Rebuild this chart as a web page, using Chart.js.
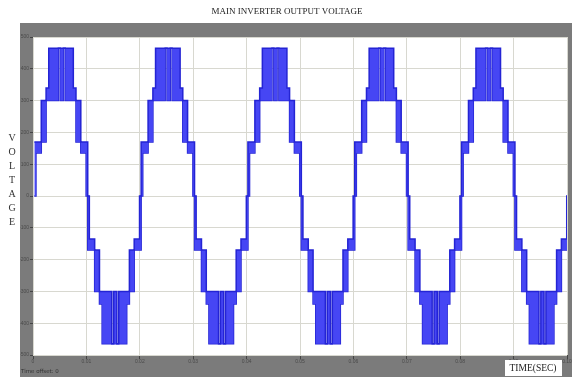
<!DOCTYPE html>
<html>
<head>
<meta charset="utf-8">
<script src="https://cdn.jsdelivr.net/npm/chart.js@4.4.1/dist/chart.umd.min.js"></script>
<style>
  html, body { margin: 0; padding: 0; background: #fff; }
  #wrap { width: 574px; height: 377px; }
</style>
</head>
<body>
<div id="wrap"><canvas id="scope" width="574" height="377"></canvas></div>
<script>
// one period of the staircase (ms from the rising zero crossing)
// each band is drawn between its upper and lower switching level
const stepTimes  = [0, 0.3, 1.3, 2.2, 2.7, 4.5, 4.85, 5.45, 5.8, 7.3, 7.8, 8.7, 9.7, 10.0, 10.3, 11.3, 12.2, 12.7, 14.5, 14.85, 15.45, 15.8, 17.3, 17.8, 18.7, 19.7];
const upperVolts = [170, 170, 300, 340, 465, 465, 465, 465, 465, 340, 300, 170, 170, 0, -135, -170, -300, -300, -465, -300, -465, -300, -300, -170, -135, 0];
const lowerVolts = [0, 135, 170, 300, 300, 465, 300, 465, 300, 300, 170, 135, 0, -170, -170, -300, -340, -465, -465, -465, -465, -465, -340, -300, -170, -170];
// the five cycles on screen all start here (ms)
const cycleStarts = [0.25, 20.25, 40.25, 60.25, 80.25];
const timeTicks = [0, 0.01, 0.02, 0.03, 0.04, 0.05, 0.06, 0.07, 0.08, 0.09, 0.1];
const voltTicks = [-500, -400, -300, -200, -100, 0, 100, 200, 300, 400, 500];

function envelope(levels) {
    const pts = [];
    cycleStarts.forEach(c => {
        stepTimes.forEach((t, i) => pts.push({ x: (c + t) / 1000, y: levels[i] }));
    });
    pts.push({ x: (cycleStarts[cycleStarts.length - 1] + 20) / 1000, y: levels[0] });
    return pts;
}

const scopeFrame = {
    id: 'scopeFrame',
    beforeDraw(chart) {
        const { ctx, chartArea: a } = chart;
        ctx.save();
        ctx.fillStyle = '#ffffff';
        ctx.fillRect(0, 0, chart.width, chart.height);
        ctx.fillStyle = '#7b7b7b';
        ctx.fillRect(20, 23, 552, 354);
        ctx.fillStyle = '#ffffff';
        ctx.fillRect(a.left, a.top, a.right - a.left, a.bottom - a.top);
        ctx.restore();
    },
    afterDraw(chart) {
        const ctx = chart.ctx;
        ctx.save();
        ctx.fillStyle = '#222';
        ctx.textAlign = 'center';
        ctx.textBaseline = 'middle';
        ctx.font = '9px "Liberation Serif"';
        ctx.fillText('MAIN INVERTER OUTPUT VOLTAGE', 287, 12);

        // stacked axis name
        ctx.font = '10px "Liberation Serif"';
        ctx.fillStyle = '#333';
        'VOLTAGE'.split('').forEach((ch, i) => ctx.fillText(ch, 12, 138 + i * 14));

        // time label box
        ctx.fillStyle = '#ffffff';
        ctx.fillRect(505, 360, 57, 16);
        ctx.fillStyle = '#222';
        ctx.font = '9.5px "Liberation Serif"';
        ctx.fillText('TIME(SEC)', 533, 368);

        ctx.textAlign = 'left';
        ctx.font = '5.5px "DejaVu Sans"';
        ctx.fillStyle = '#333';
        ctx.fillText('Time offset: 0', 21, 372);
        ctx.restore();
    }
};

new Chart(document.getElementById('scope'), {
    type: 'line',
    data: {
        datasets: [
            {
                data: envelope(upperVolts),
                stepped: true,
                borderColor: '#2424d4',
                borderWidth: 1.5,
                backgroundColor: '#4646f4',
                fill: '+1',
                pointRadius: 0
            },
            {
                data: envelope(lowerVolts),
                stepped: true,
                borderColor: '#2424d4',
                borderWidth: 1.5,
                fill: false,
                pointRadius: 0
            }
        ]
    },
    options: {
        responsive: false,
        animation: false,
        devicePixelRatio: 1,
        layout: { padding: { left: 20, right: 7, top: 37, bottom: 0 } },
        plugins: { legend: { display: false }, tooltip: { enabled: false }, title: { display: false } },
        scales: {
            x: {
                type: 'linear',
                min: timeTicks[0],
                max: timeTicks[timeTicks.length - 1],
                afterBuildTicks: s => { s.ticks = timeTicks.map(v => ({ value: v })); },
                afterFit: s => { s.height = 22; },
                ticks: { font: { size: 5 }, color: '#4a4a4a', padding: 0, maxRotation: 0, autoSkip: false },
                grid: { color: '#d8d8d0', tickColor: '#444', tickLength: 4, lineWidth: 1 },
                border: { display: false }
            },
            y: {
                min: voltTicks[0],
                max: voltTicks[voltTicks.length - 1],
                afterBuildTicks: s => { s.ticks = voltTicks.map(v => ({ value: v })); },
                afterFit: s => { s.width = 13; },
                ticks: { font: { size: 5 }, color: '#4a4a4a', padding: 1 },
                grid: { color: '#d8d8d0', tickColor: '#444', tickLength: 3, lineWidth: 1 },
                border: { display: false }
            }
        }
    },
    plugins: [scopeFrame]
});
</script>
</body>
</html>
